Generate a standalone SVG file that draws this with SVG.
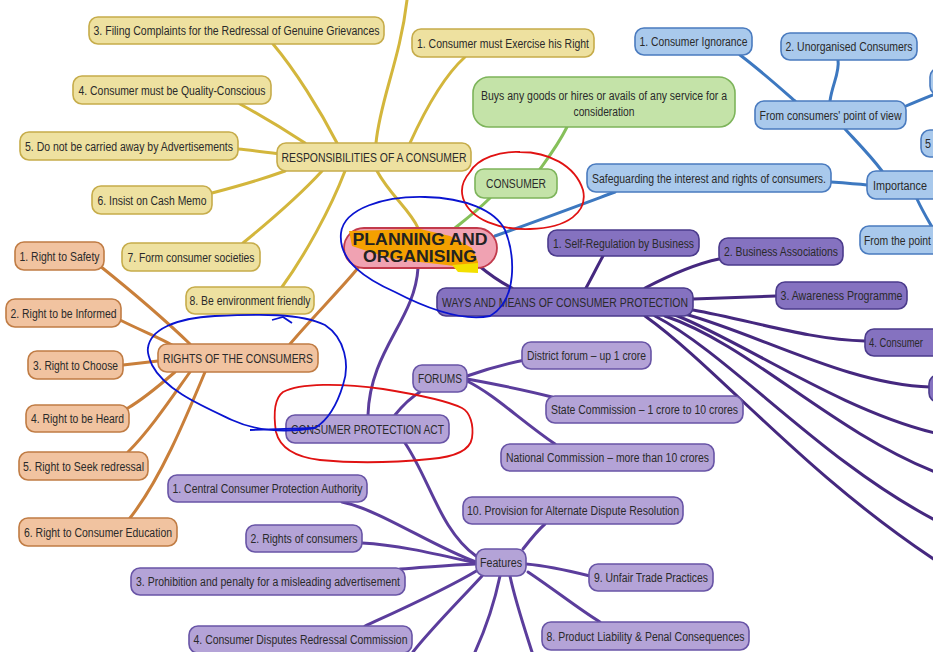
<svg xmlns="http://www.w3.org/2000/svg" width="933" height="652" viewBox="0 0 933 652">
<style>
.t{font-family:"Liberation Sans Narrow","Liberation Sans",Arial,sans-serif;font-size:12.5px;fill:#2a2a2a;text-anchor:middle}
.tl{font-family:"Liberation Sans Narrow","Liberation Sans",Arial,sans-serif;font-size:12.5px;fill:#2a2a2a}
.ny{fill:#eee1a0;stroke:#c6ac4a;stroke-width:1.6}
.no{fill:#f1c3a0;stroke:#c07c44;stroke-width:1.6}
.ng{fill:#c4e3a8;stroke:#7db45a;stroke-width:1.6}
.nb{fill:#a9c9ec;stroke:#4a7bbf;stroke-width:1.6}
.nd{fill:#8572c0;stroke:#4b3b8c;stroke-width:1.6}
.nl{fill:#b4a3d7;stroke:#6854a6;stroke-width:1.6}
.c{fill:none;stroke-width:3;stroke-linecap:round}
.cy{stroke:#d3b63c}
.co{stroke:#c97f3a}
.cg{stroke:#86c05a}
.cb{stroke:#3d78c0}
.cd{stroke:#45287f}
.cl{stroke:#5b3d9c}
.red{fill:none;stroke:#e01212;stroke-width:1.8}
.blu{fill:none;stroke:#0a14d0;stroke-width:1.8}
.ct{font-family:"Liberation Sans",Arial,sans-serif;font-weight:bold;font-size:16px;fill:#222;text-anchor:middle}
</style>
<rect width="933" height="652" fill="#ffffff"/>
<g id="connectors">
<path class="c cy" d="M376 143 C380 100 400 60 407 0"/>
<path class="c cy" d="M410 143 C425 110 445 75 465 57"/>
<path class="c cy" d="M337 143 C320 110 295 70 273 44"/>
<path class="c cy" d="M305 143 C285 130 260 115 240 104"/>
<path class="c cy" d="M280 154 C265 152 250 150 238 149"/>
<path class="c cy" d="M285 171 C260 180 235 187 212 193"/>
<path class="c cy" d="M322 171 C300 195 265 225 243 243"/>
<path class="c cy" d="M345 171 C330 210 305 255 282 287"/>
<path class="c cy" d="M377 171 C390 195 410 210 418 228"/>
<path class="c co" d="M290 344 C310 320 340 290 358 268"/>
<path class="c co" d="M100 266 C130 290 165 320 190 344"/>
<path class="c co" d="M120 320 C140 330 160 338 172 345"/>
<path class="c co" d="M123 365 L158 361"/>
<path class="c co" d="M128 408 C145 398 160 385 175 372"/>
<path class="c co" d="M128 452 C150 430 170 400 190 372"/>
<path class="c co" d="M130 518 C160 480 185 420 205 372"/>
<path class="c cg" d="M567 127 C558 145 548 158 540 169"/>
<path class="c cg" d="M490 198 C478 210 465 220 455 228"/>
<path class="c cb" d="M495 236 C540 220 580 205 615 192"/>
<path class="c cb" d="M831 182 C845 183 858 184 867 185"/>
<path class="c cb" d="M882 171 C870 155 855 140 845 129"/>
<path class="c cb" d="M795 101 C780 88 760 70 740 55"/>
<path class="c cb" d="M830 101 C832 85 840 72 838 60"/>
<path class="c cb" d="M906 106 C915 102 925 98 935 94"/>
<path class="c cb" d="M917 199 C922 210 928 220 932 227"/>
<path class="c cd" d="M478 265 C490 275 500 282 512 288"/>
<path class="c cd" d="M586 288 C592 277 598 265 603 256"/>
<path class="c cd" d="M645 288 C670 275 695 264 719 259"/>
<path class="c cd" d="M693 299 L776 296"/>
<path class="c cd" d="M693 310 C750 320 810 340 865 341"/>
<path class="c cd" d="M685 314 C760 335 850 385 930 387"/>
<path class="c cd" d="M675 315 C740 340 840 410 935 433"/>
<path class="c cd" d="M665 316 C750 345 830 430 935 472"/>
<path class="c cd" d="M655 316 C730 355 820 460 935 520"/>
<path class="c cd" d="M645 316 C720 370 800 470 935 560"/>
<path class="c cl" d="M418 268 C415 320 370 350 368 415"/>
<path class="c cl" d="M395 415 C403 405 410 398 420 392"/>
<path class="c cl" d="M405 443 C430 480 440 530 476 556"/>
<path class="c cl" d="M467 376 C490 368 505 364 525 360"/>
<path class="c cl" d="M467 379 C500 385 525 390 552 397"/>
<path class="c cl" d="M467 381 C495 395 520 420 555 444"/>
<path class="c cl" d="M476 562 C430 545 380 510 342 502"/>
<path class="c cl" d="M476 563 C440 555 400 545 362 543"/>
<path class="c cl" d="M476 564 C450 565 430 567 400 569"/>
<path class="c cl" d="M478 570 C445 590 400 610 365 626"/>
<path class="c cl" d="M482 576 C460 600 430 630 413 652"/>
<path class="c cl" d="M500 576 C495 600 485 630 475 652"/>
<path class="c cl" d="M510 576 C515 600 525 630 532 652"/>
<path class="c cl" d="M528 572 C555 590 580 610 600 622"/>
<path class="c cl" d="M526 564 C550 566 570 571 590 576"/>
<path class="c cl" d="M523 549 C530 540 538 530 545 524"/>
</g>
<g id="center">
<rect x="344" y="228" width="153" height="40" rx="20" fill="#f0a2b2" stroke="#c23a4c" stroke-width="1.8"/>
<polygon points="349,231 420,229 450,236 472,248 478,262 478,266 455,266 420,262 390,258 370,252 352,246" fill="#f4a000"/>
<polygon points="452,265 478,263 478,273 458,272" fill="#f3e000"/>
<text class="ct" x="420" y="245" textLength="135" lengthAdjust="spacingAndGlyphs">PLANNING AND</text>
<text class="ct" x="420" y="262" textLength="114" lengthAdjust="spacingAndGlyphs">ORGANISING</text>
</g>
<g id="n-y3"><rect class="ny" x="89" y="17" width="295" height="27" rx="9"/><text class="t" x="236.5" y="35" textLength="286" lengthAdjust="spacingAndGlyphs">3. Filing Complaints for the Redressal of Genuine Grievances</text></g>
<g id="n-y1"><rect class="ny" x="412" y="29" width="182" height="28" rx="9"/><text class="t" x="503" y="47.5" textLength="172" lengthAdjust="spacingAndGlyphs">1. Consumer must Exercise his Right</text></g>
<g id="n-y4"><rect class="ny" x="73" y="76" width="198" height="28" rx="9"/><text class="t" x="172" y="94.5" textLength="187" lengthAdjust="spacingAndGlyphs">4. Consumer must be Quality-Conscious</text></g>
<g id="n-y5"><rect class="ny" x="20" y="132" width="218" height="28" rx="9"/><text class="t" x="129" y="150.5" textLength="208" lengthAdjust="spacingAndGlyphs">5. Do not be carried away by Advertisements</text></g>
<g id="n-yr"><rect class="ny" x="277" y="143" width="194" height="28" rx="9"/><text class="t" x="374" y="161.5" textLength="185" lengthAdjust="spacingAndGlyphs">RESPONSIBILITIES OF A CONSUMER</text></g>
<g id="n-y6"><rect class="ny" x="92" y="186" width="120" height="28" rx="9"/><text class="t" x="152" y="204.5" textLength="109" lengthAdjust="spacingAndGlyphs">6. Insist on Cash Memo</text></g>
<g id="n-y7"><rect class="ny" x="122" y="243" width="138" height="28" rx="9"/><text class="t" x="191" y="261.5" textLength="127" lengthAdjust="spacingAndGlyphs">7. Form consumer societies</text></g>
<g id="n-y8"><rect class="ny" x="186" y="287" width="128" height="27" rx="9"/><text class="t" x="250" y="305" textLength="121" lengthAdjust="spacingAndGlyphs">8. Be environment friendly</text></g>
<g id="n-gc"><rect class="ng" x="475" y="169" width="82" height="29" rx="9"/><text class="t" x="516" y="188" textLength="60" lengthAdjust="spacingAndGlyphs">CONSUMER</text></g>
<g id="n-gb"><rect class="ng" x="473" y="77" width="262" height="50" rx="16"/><text class="t" x="604" y="99.5" textLength="246" lengthAdjust="spacingAndGlyphs">Buys any goods or hires or avails of any service for a</text><text class="t" x="604" y="115.5" textLength="61" lengthAdjust="spacingAndGlyphs">consideration</text></g>
<g id="n-bs"><rect class="nb" x="587" y="164" width="244" height="28" rx="9"/><text class="t" x="709" y="182.5" textLength="234" lengthAdjust="spacingAndGlyphs">Safeguarding the interest and rights of consumers.</text></g>
<g id="n-bi"><rect class="nb" x="867" y="171" width="75" height="28" rx="9"/><text class="tl" x="873" y="189.5" textLength="54" lengthAdjust="spacingAndGlyphs">Importance</text></g>
<g id="n-bf"><rect class="nb" x="755" y="101" width="151" height="28" rx="9"/><text class="t" x="830.5" y="119.5" textLength="142" lengthAdjust="spacingAndGlyphs">From consumers' point of view</text></g>
<g id="n-b1"><rect class="nb" x="635" y="28" width="117" height="27" rx="9"/><text class="t" x="693.5" y="46" textLength="108" lengthAdjust="spacingAndGlyphs">1. Consumer Ignorance</text></g>
<g id="n-b2"><rect class="nb" x="781" y="33" width="136" height="27" rx="9"/><text class="t" x="849" y="51" textLength="127" lengthAdjust="spacingAndGlyphs">2. Unorganised Consumers</text></g>
<g id="n-b3"><rect class="nb" x="930" y="68" width="40" height="27" rx="9"/></g>
<g id="n-b5"><rect class="nb" x="921" y="130" width="40" height="27" rx="9"/><text class="tl" x="925" y="148" textLength="6" lengthAdjust="spacingAndGlyphs">5</text></g>
<g id="n-bp"><rect class="nb" x="860" y="226" width="100" height="28" rx="9"/><text class="tl" x="864" y="244.5" textLength="67" lengthAdjust="spacingAndGlyphs">From the point</text></g>
<g id="n-pw"><rect class="nd" x="437" y="288" width="256" height="28" rx="9"/><text class="t" x="565" y="306.5" textLength="246" lengthAdjust="spacingAndGlyphs">WAYS AND MEANS OF CONSUMER PROTECTION</text></g>
<g id="n-p1"><rect class="nd" x="548" y="230" width="151" height="26" rx="9"/><text class="t" x="623.5" y="247.5" textLength="141" lengthAdjust="spacingAndGlyphs">1. Self-Regulation by Business</text></g>
<g id="n-p2"><rect class="nd" x="719" y="238" width="124" height="27" rx="9"/><text class="t" x="781" y="256" textLength="114" lengthAdjust="spacingAndGlyphs">2. Business Associations</text></g>
<g id="n-p3"><rect class="nd" x="776" y="282" width="131" height="27" rx="9"/><text class="t" x="841.5" y="300" textLength="122" lengthAdjust="spacingAndGlyphs">3.  Awareness Programme</text></g>
<g id="n-p4"><rect class="nd" x="865" y="329" width="80" height="27" rx="9"/><text class="tl" x="869" y="347" textLength="54" lengthAdjust="spacingAndGlyphs">4. Consumer</text></g>
<g id="n-p5"><rect class="nd" x="929" y="375" width="40" height="27" rx="9"/></g>
<g id="n-lc"><rect class="nl" x="286" y="415" width="163" height="28" rx="9"/><text class="t" x="367.5" y="433.5" textLength="153" lengthAdjust="spacingAndGlyphs">CONSUMER PROTECTION ACT</text></g>
<g id="n-lf"><rect class="nl" x="413" y="365" width="54" height="27" rx="9"/><text class="t" x="440" y="383" textLength="44" lengthAdjust="spacingAndGlyphs">FORUMS</text></g>
<g id="n-ld"><rect class="nl" x="522" y="342" width="129" height="27" rx="9"/><text class="t" x="586.5" y="360" textLength="119" lengthAdjust="spacingAndGlyphs">District forum – up 1 crore</text></g>
<g id="n-ls"><rect class="nl" x="546" y="396" width="197" height="27" rx="9"/><text class="t" x="644.5" y="414" textLength="187" lengthAdjust="spacingAndGlyphs">State Commission – 1 crore to 10 crores</text></g>
<g id="n-ln"><rect class="nl" x="501" y="444" width="213" height="27" rx="9"/><text class="t" x="607.5" y="462" textLength="203" lengthAdjust="spacingAndGlyphs">National Commission – more than 10 crores</text></g>
<g id="n-lfe"><rect class="nl" x="476" y="549" width="50" height="27" rx="9"/><text class="t" x="501" y="567" textLength="42" lengthAdjust="spacingAndGlyphs">Features</text></g>
<g id="n-l10"><rect class="nl" x="463" y="497" width="220" height="27" rx="9"/><text class="t" x="573" y="515" textLength="212" lengthAdjust="spacingAndGlyphs">10. Provision for Alternate Dispute Resolution</text></g>
<g id="n-l9"><rect class="nl" x="589" y="564" width="124" height="27" rx="9"/><text class="t" x="651" y="582" textLength="114" lengthAdjust="spacingAndGlyphs">9. Unfair Trade Practices</text></g>
<g id="n-l8"><rect class="nl" x="542" y="622" width="207" height="28" rx="9"/><text class="t" x="645.5" y="640.5" textLength="198" lengthAdjust="spacingAndGlyphs">8. Product Liability &amp; Penal Consequences</text></g>
<g id="n-la"><rect class="nl" x="168" y="475" width="199" height="27" rx="9"/><text class="t" x="267.5" y="493" textLength="190" lengthAdjust="spacingAndGlyphs">1. Central Consumer Protection Authority</text></g>
<g id="n-lb"><rect class="nl" x="246" y="525" width="116" height="27" rx="9"/><text class="t" x="304" y="543" textLength="107" lengthAdjust="spacingAndGlyphs">2. Rights of consumers</text></g>
<g id="n-lcc"><rect class="nl" x="131" y="568" width="274" height="27" rx="9"/><text class="t" x="268" y="586" textLength="264" lengthAdjust="spacingAndGlyphs">3. Prohibition and penalty for a misleading advertisement</text></g>
<g id="n-ldd"><rect class="nl" x="189" y="626" width="223" height="27" rx="9"/><text class="t" x="300.5" y="644" textLength="214" lengthAdjust="spacingAndGlyphs">4. Consumer Disputes Redressal Commission</text></g>
<g id="n-or"><rect class="no" x="158" y="344" width="160" height="28" rx="9"/><text class="t" x="238" y="362.5" textLength="150" lengthAdjust="spacingAndGlyphs">RIGHTS OF THE CONSUMERS</text></g>
<g id="n-o1"><rect class="no" x="15" y="242" width="89" height="28" rx="9"/><text class="t" x="59.5" y="260.5" textLength="80" lengthAdjust="spacingAndGlyphs">1. Right to Safety</text></g>
<g id="n-o2"><rect class="no" x="6" y="299" width="115" height="28" rx="9"/><text class="t" x="63.5" y="317.5" textLength="106" lengthAdjust="spacingAndGlyphs">2. Right to be Informed</text></g>
<g id="n-o3"><rect class="no" x="28" y="351" width="95" height="28" rx="9"/><text class="t" x="75.5" y="369.5" textLength="85" lengthAdjust="spacingAndGlyphs">3. Right to Choose</text></g>
<g id="n-o4"><rect class="no" x="26" y="405" width="103" height="27" rx="9"/><text class="t" x="77.5" y="423" textLength="93" lengthAdjust="spacingAndGlyphs">4. Right to be Heard</text></g>
<g id="n-o5"><rect class="no" x="19" y="452" width="129" height="28" rx="9"/><text class="t" x="83.5" y="470.5" textLength="121" lengthAdjust="spacingAndGlyphs">5. Right to Seek redressal</text></g>
<g id="n-o6"><rect class="no" x="19" y="518" width="158" height="28" rx="9"/><text class="t" x="98" y="536.5" textLength="148" lengthAdjust="spacingAndGlyphs">6. Right to Consumer Education</text></g>
<g id="annotations">
<path class="red" d="M470 172 C478 158 500 151 520 152 C548 152 575 165 583 190 C588 212 568 228 530 229 C500 230 470 220 463 198 C460 188 463 180 470 172 Z"/>
<path class="blu" d="M341 233 C344 208 385 196 425 197 C465 198 495 210 505 230 C515 255 518 300 490 316 C460 322 420 305 395 292 C368 280 338 262 341 233 Z"/>
<path class="red" d="M283 392 C300 383 340 383 383 389 C420 395 450 402 462 408 C470 412 474 425 472 438 C470 450 455 457 430 459 C400 462 360 464 320 460 C295 457 280 448 276 432 C273 412 275 398 283 392 Z"/>
<path class="blu" d="M148 348 C150 330 175 318 215 316 C260 314 300 313 325 325 C345 338 350 365 343 385 C337 405 328 420 315 428 C290 432 260 433 232 420 C200 405 165 390 152 365 C149 358 147 352 148 348 Z"/>
<path class="blu" d="M315 428 L250 430"/>
<path class="blu" d="M272 320 L283 317 L292 323"/>
</g>
</svg>
